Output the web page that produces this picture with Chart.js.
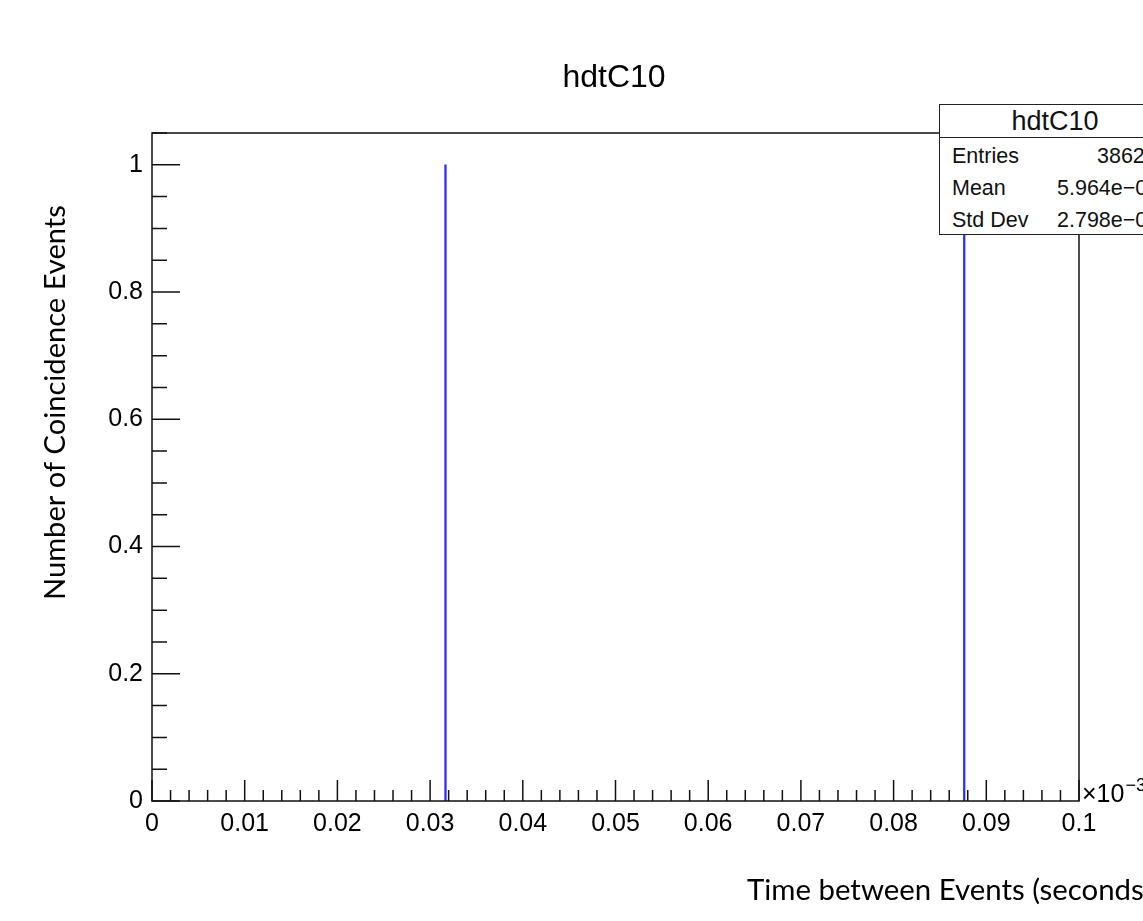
<!DOCTYPE html>
<html>
<head>
<meta charset="utf-8">
<script src="https://cdn.jsdelivr.net/npm/chart.js@4"></script>
<style>
  html, body { margin: 0; padding: 0; background: #fff; overflow: hidden; }
  #wrap { position: relative; width: 1143px; height: 921px; overflow: hidden; }
  #stats {
    position: absolute; left: 939px; top: 104px; width: 232px; height: 131px;
    border: 1.5px solid #222; background: #fff; box-sizing: border-box;
    font-family: "Liberation Sans", Arial, sans-serif; color: #111;
  }
  #stats .head {
    position: absolute; left: 0; right: 0; top: 0; height: 32px;
    border-bottom: 1.5px solid #222; text-align: center;
    font-size: 27px; line-height: 32px;
  }
  #stats span { position: absolute; font-size: 21.5px; line-height: 24px; white-space: nowrap; }
</style>
</head>
<body>
<div id="wrap">
  <canvas id="histChart"></canvas>
  <div id="stats"></div>
</div>
<script>
const histName = "hdtC10";
const xTitle = "Time between Events (seconds)";
const yTitle = "Number of Coincidence Events";
const binCenters = [0.03166, 0.08762];
const binCounts = [1, 1];
const xMajorTicks = [0, 0.01, 0.02, 0.03, 0.04, 0.05, 0.06, 0.07, 0.08, 0.09, 0.1];
const yMajorTicks = [0, 0.2, 0.4, 0.6, 0.8, 1];
const xRange = [0, 0.1];
const yRange = [0, 1.05];
const statLabels = ["Entries", "Mean", "Std Dev"];
const statValues = ["3862", "5.964e\u221205", "2.798e\u221205"];

// stats box (ROOT style), partly cut off at the right edge
const stats = document.getElementById("stats");
stats.innerHTML = `<div class="head">${histName}</div>` +
  statLabels.map((l, i) => `<span style="left:12px;top:${39 + i * 32}px">${l}</span>`).join("") +
  statValues.map((v, i) => `<span style="left:${i === 0 ? 157 : 117}px;top:${39 + i * 32}px">${v}</span>`).join("");

const fmt = v => String(+v.toFixed(3));

function fitFont(ctx, text, family, width) {
  ctx.font = `100px ${family}`;
  return 100 * width / ctx.measureText(text).width;
}

const rootFrame = {
  id: "rootFrame",
  afterDraw(chart) {
    const { ctx, chartArea: a, scales: { x, y } } = chart;
    ctx.save();
    ctx.strokeStyle = "#111";
    ctx.lineWidth = 1.5;
    ctx.strokeRect(a.left, a.top, a.right - a.left, a.bottom - a.top);

    // ticks drawn inside the frame
    ctx.beginPath();
    for (let i = 0; i < xMajorTicks.length; i++) {
      const v = xMajorTicks[i];
      const px = x.getPixelForValue(v);
      ctx.moveTo(px, a.bottom); ctx.lineTo(px, a.bottom - 21);
      if (i < xMajorTicks.length - 1) {
        const step = (xMajorTicks[i + 1] - v) / 5;
        for (let k = 1; k < 5; k++) {
          const mx = x.getPixelForValue(v + k * step);
          ctx.moveTo(mx, a.bottom); ctx.lineTo(mx, a.bottom - 11);
        }
      }
    }
    const yStep = (yMajorTicks[1] - yMajorTicks[0]) / 4;
    for (let i = 0; i < yMajorTicks.length; i++) {
      const v = yMajorTicks[i];
      const py = y.getPixelForValue(v);
      ctx.moveTo(a.left, py); ctx.lineTo(a.left + 28, py);
      for (let k = 1; k < 4; k++) {
        const mv = v + k * yStep;
        if (mv > yRange[1] + 1e-9) break;
        const my = y.getPixelForValue(mv);
        ctx.moveTo(a.left, my); ctx.lineTo(a.left + 15, my);
      }
    }
    ctx.stroke();

    // titles
    ctx.fillStyle = "#000";
    ctx.font = '32px "Liberation Sans", Arial, sans-serif';
    ctx.textAlign = "center";
    ctx.textBaseline = "alphabetic";
    ctx.fillText(histName, 614, 87);

    ctx.textAlign = "left";
    ctx.font = '25px "Liberation Sans", Arial, sans-serif';
    ctx.fillText("\u00d710", a.right + 3, a.bottom + 1);
    const w10 = ctx.measureText("\u00d710").width;
    ctx.font = '18px "Liberation Sans", Arial, sans-serif';
    ctx.fillText("\u22123", a.right + 3 + w10 + 1, a.bottom - 10);

    const fam = "Lato, sans-serif";
    const ys = fitFont(ctx, yTitle, fam, 395);
    ctx.font = `${ys}px ${fam}`;
    ctx.save();
    ctx.translate(65, 600);
    ctx.rotate(-Math.PI / 2);
    ctx.fillText(yTitle, 0, 0);
    ctx.restore();

    const xs = fitFont(ctx, "Time between Events (seconds", fam, 397);
    ctx.font = `${xs}px ${fam}`;
    ctx.fillText(xTitle, 747, 900);
    ctx.restore();
  }
};

new Chart(document.getElementById("histChart"), {
  type: "bar",
  data: {
    datasets: [{
      data: binCenters.map((c, i) => ({ x: c, y: binCounts[i] })),
      backgroundColor: "#2a2aff",
      borderWidth: 0,
      barThickness: 1.6
    }]
  },
  options: {
    responsive: true,
    maintainAspectRatio: false,
    animation: false,
    layout: { padding: { left: 0, top: 133, right: 64, bottom: 0 } },
    plugins: { legend: { display: false }, tooltip: { enabled: false }, title: { display: false } },
    scales: {
      x: {
        type: "linear", min: xRange[0], max: xRange[1], offset: false,
        grid: { display: false, drawTicks: false }, border: { display: false },
        afterBuildTicks: s => { s.ticks = xMajorTicks.map(v => ({ value: v })); },
        afterFit: s => { s.height = 120; },
        ticks: {
          color: "#000", padding: 8, maxRotation: 0, autoSkip: false,
          font: { family: '"Liberation Sans", Arial, sans-serif', size: 25 },
          callback: v => fmt(v)
        }
      },
      y: {
        min: yRange[0], max: yRange[1],
        grid: { display: false, drawTicks: false }, border: { display: false },
        afterBuildTicks: s => { s.ticks = yMajorTicks.map(v => ({ value: v })); },
        afterFit: s => { s.width = 152; },
        ticks: {
          color: "#000", padding: 9, autoSkip: false,
          font: { family: '"Liberation Sans", Arial, sans-serif', size: 25 },
          callback: v => fmt(v)
        }
      }
    }
  },
  plugins: [rootFrame]
});
</script>
</body>
</html>
